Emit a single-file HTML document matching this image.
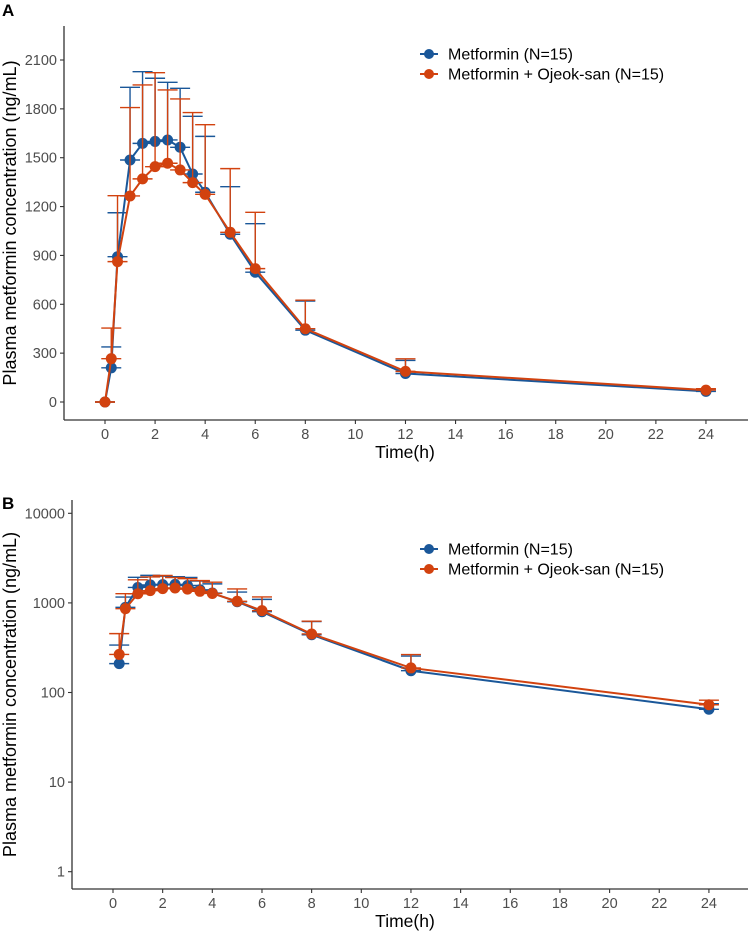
<!DOCTYPE html>
<html><head><meta charset="utf-8"><style>
body{margin:0;background:#fff}
text{font-family:"Liberation Sans",Arial,sans-serif}
</style></head><body>
<svg id="chart" width="750" height="933" xmlns="http://www.w3.org/2000/svg"></svg>
<script>
const times=[0,0.25,0.5,1,1.5,2,2.5,3,3.5,4,5,6,8,12,24];
const metMean=[0,210,892,1486,1588,1600,1609,1564,1400,1288,1030,797,441,175,65];
const metUpper=[0,338,1162,1932,2028,1988,1963,1926,1754,1631,1322,1095,620,255,75];
const ojMean=[0,266,862,1265,1370,1445,1466,1425,1347,1275,1042,819,450,188,73];
const ojUpper=[0,454,1267,1808,1947,2022,1916,1861,1777,1703,1433,1165,625,265,82];
const xTicks=[0,2,4,6,8,10,12,14,16,18,20,22,24];
const yTicksA=[0,300,600,900,1200,1500,1800,2100];
const yTicksB=[1,10,100,1000,10000];
const seriesNames=["Metformin (N=15)","Metformin + Ojeok-san (N=15)"];
const colors=["#1a5799","#d2420f"];

const NS="http://www.w3.org/2000/svg";
const svg=document.getElementById('chart');
function mk(tag,attrs,parent,txt){const e=document.createElementNS(NS,tag);for(const k in attrs)e.setAttribute(k,attrs[k]);if(txt!==undefined)e.textContent=txt;(parent||svg).appendChild(e);return e;}

function panel(cfg){
  const g=mk('g',{});
  
  
  const xs=t=>cfg.x0+t*cfg.xpx;
  const ys=cfg.ys;
  const ax=mk('line',{x1:cfg.axX,y1:cfg.top,x2:cfg.axX,y2:cfg.axY,stroke:'#333','stroke-width':1.3},g);
  
  const bx=mk('line',{x1:cfg.axX,y1:cfg.axY,x2:748,y2:cfg.axY,stroke:'#333','stroke-width':1.3},g);
  
  xTicks.forEach(t=>{
    mk('line',{x1:xs(t),x2:xs(t),y1:cfg.axY,y2:cfg.axY+4,stroke:'#333','stroke-width':1.1},g);
    const l=mk('text',{x:xs(t),y:cfg.axY+19,'text-anchor':'middle','font-size':14.5,fill:'#4d4d4d'},g,t);
    
  });
  cfg.yTicks.forEach(v=>{
    mk('line',{x1:cfg.axX-4,x2:cfg.axX,y1:ys(v),y2:ys(v),stroke:'#333','stroke-width':1.1},g);
    const l=mk('text',{x:cfg.axX-7,y:ys(v)+5,'text-anchor':'end','font-size':14.5,fill:'#4d4d4d'},g,v);
    
  });
  const xt=mk('text',{x:405,y:cfg.axY+38,'text-anchor':'middle','font-size':17.5,fill:'#000'},g,'Time(h)');
  
  const cy=(cfg.top+cfg.axY)/2;
  const yt=mk('text',{x:0,y:0,transform:`translate(16,${cy}) rotate(-90)`,'text-anchor':'middle','font-size':18,fill:'#000'},g,'Plasma metformin concentration (ng/mL)');
  
  const lt=mk('text',{x:2,y:cfg.labelY,'font-size':17,'font-weight':'bold',fill:'#000'},g,cfg.label);
  
  const data=[[metMean,metUpper],[ojMean,ojUpper]];
  data.forEach((d,si)=>{
    const c=colors[si];
    const idx=times.map((t,i)=>i).filter(i=>!cfg.log||d[0][i]>0);
    idx.forEach(i=>{
      const x=xs(times[i]),y1=ys(d[0][i]),y2=ys(d[1][i]);
      const eb=mk('g',{stroke:c,'stroke-width':1.4,fill:'none'},g);
      
      mk('line',{x1:x,x2:x,y1:y1,y2:y2},eb);
      mk('line',{x1:x-10,x2:x+10,y1:y1,y2:y1},eb);
      mk('line',{x1:x-10,x2:x+10,y1:y2,y2:y2},eb);
    });
    const pts=idx.map(i=>xs(times[i])+','+ys(d[0][i])).join(' ');
    const pl=mk('polyline',{points:pts,fill:'none',stroke:c,'stroke-width':2},g);
    
    idx.forEach(i=>{
      const p=mk('circle',{cx:xs(times[i]),cy:ys(d[0][i]),r:5.5,fill:c},g);
      
    });
    const le=mk('g',{},g);
    
    const ly=cfg.legY+si*20;
    mk('line',{x1:420,x2:438,y1:ly,y2:ly,stroke:c,'stroke-width':2},le);
    mk('circle',{cx:429,cy:ly,r:5,fill:c},le);
    mk('text',{x:448,y:ly+5.5,'font-size':16,fill:'#000'},le,seriesNames[si]);
  });
}
panel({name:'panel-a-linear',label:'A',labelY:16,x0:105,xpx:25.04,axX:64,axY:420,top:26,yTicks:yTicksA,
  ys:v=>402-v*342/2100,legY:54});
panel({name:'panel-b-log',label:'B',labelY:509,x0:113,xpx:24.83,axX:72,axY:889,top:500,yTicks:yTicksB,log:true,
  ys:v=>871.7-Math.log10(v)*89.6,legY:549});
</script>
</body></html>
